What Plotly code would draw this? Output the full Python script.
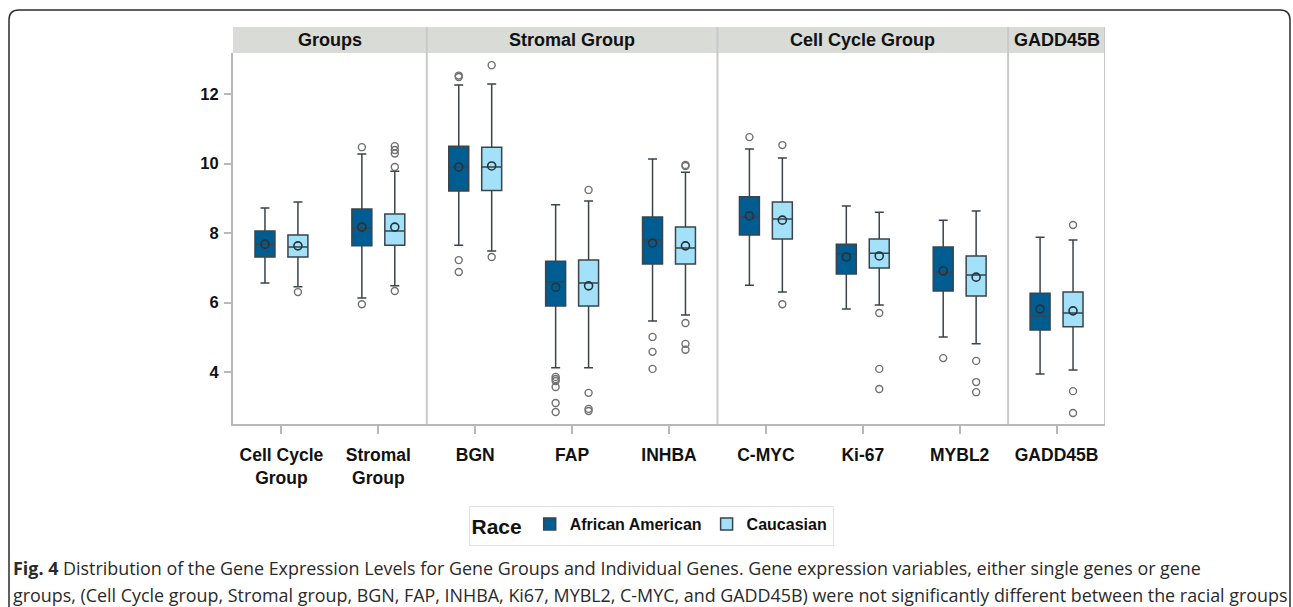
import plotly.graph_objects as go

# ---------------- data ----------------
categories = ["Cell Cycle<br>Group", "Stromal<br>Group", "BGN", "FAP", "INHBA",
              "C-MYC", "Ki-67", "MYBL2", "GADD45B"]
panels = ["Groups", "Stromal Group", "Cell Cycle Group", "GADD45B"]
panel_sizes = [2, 3, 3, 1]
races = ["African American", "Caucasian"]

aa_lower = [6.56, 6.13, 7.65, 4.12, 5.47, 6.50, 5.81, 5.01, 3.94]
aa_q1 = [7.31, 7.63, 9.21, 5.90, 7.11, 7.94, 6.82, 6.33, 5.21]
aa_median = [7.68, 8.14, 9.90, 6.60, 7.80, 8.46, 7.40, 6.88, 5.61]
aa_q3 = [8.06, 8.69, 10.50, 7.19, 8.46, 9.04, 7.68, 7.60, 6.27]
aa_upper = [8.72, 10.27, 12.26, 8.81, 10.13, 10.42, 8.78, 8.37, 7.88]
aa_mean = [7.68, 8.17, 9.90, 6.44, 7.71, 8.49, 7.31, 6.91, 5.81]
aa_outliers = [[], [10.47, 5.95], [12.49, 12.53, 7.22, 6.88],
               [3.86, 3.80, 3.74, 3.57, 3.11, 2.85], [5.01, 4.58, 4.09],
               [10.76], [], [4.40], []]

ca_lower = [6.45, 6.48, 7.48, 4.12, 5.64, 6.30, 5.93, 4.81, 4.06]
ca_q1 = [7.31, 7.65, 9.22, 5.90, 7.11, 7.83, 6.99, 6.19, 5.30]
ca_median = [7.60, 8.06, 9.90, 6.56, 7.57, 8.40, 7.42, 6.79, 5.70]
ca_q3 = [7.94, 8.55, 10.47, 7.22, 8.17, 8.89, 7.83, 7.34, 6.30]
ca_upper = [8.89, 9.78, 12.29, 8.92, 9.75, 10.16, 8.60, 8.63, 7.80]
ca_mean = [7.63, 8.17, 9.93, 6.48, 7.63, 8.37, 7.34, 6.73, 5.76]
ca_outliers = [[6.30], [10.50, 10.39, 10.29, 9.90, 6.33], [12.83, 7.31],
               [9.24, 3.40, 2.94, 2.88], [9.96, 9.93, 5.41, 4.81, 4.64],
               [10.53, 5.95], [5.70, 4.09, 3.51], [4.32, 3.71, 3.42],
               [8.23, 3.45, 2.82]]

y_ticks = [4, 6, 8, 10, 12]

caption_1 = ("<b>Fig. 4</b> Distribution of the Gene Expression Levels for Gene Groups and "
             "Individual Genes. Gene expression variables, either single genes or gene")
caption_2 = ("groups, (Cell Cycle group, Stromal group, BGN, FAP, INHBA, Ki67, MYBL2, C-MYC, "
             "and GADD45B) were not significantly different between the racial groups")

# ---------------- styling ----------------
W, H = 1293, 607
ML, MR, MT, MB = 233, 188, 53, 183
PW, PH = W - ML - MR, H - MT - MB
fills = ["#005d92", "#a3e1f9"]
offsets = [-0.17, 0.17]
box_w = 0.206
FONT = "Liberation Sans, Arial, sans-serif"


def px_x(px):
    return (px - ML) / PW


def px_y(py):
    return (H - MB - py) / PH


stats = [
    (aa_lower, aa_q1, aa_median, aa_q3, aa_upper, aa_mean, aa_outliers),
    (ca_lower, ca_q1, ca_median, ca_q3, ca_upper, ca_mean, ca_outliers),
]

fig = go.Figure()
idx = list(range(len(categories)))
for r, (race, st) in enumerate(zip(races, stats)):
    lo, q1, med, q3, up, mn, outs = st
    pos = [i + offsets[r] for i in idx]
    fig.add_trace(go.Box(
        name=race, x=pos, q1=q1, median=med, q3=q3,
        lowerfence=lo, upperfence=up, width=box_w,
        fillcolor=fills[r], line=dict(color="#3a444c", width=1.5),
        whiskerwidth=0.45, boxpoints=False, hoverinfo="skip",
        showlegend=True,
    ))
    fig.add_trace(go.Scatter(
        x=pos, y=mn, mode="markers", showlegend=False, hoverinfo="skip",
        marker=dict(symbol="circle-open", size=8, color="#26323b",
                    line=dict(width=1.6, color="#26323b")),
    ))
    ox, oy = [], []
    for i, vals in enumerate(outs):
        for v in vals:
            ox.append(pos[i])
            oy.append(v)
    fig.add_trace(go.Scatter(
        x=ox, y=oy, mode="markers", showlegend=False, hoverinfo="skip",
        marker=dict(symbol="circle-open", size=7, color="#707070",
                    line=dict(width=1.4, color="#707070")),
    ))

shapes = []
annotations = []
# header strips and panel dividers
start = -0.5
header_top = px_y(27)
for name, n in zip(panels, panel_sizes):
    end = start + n
    shapes.append(dict(type="rect", xref="x", yref="paper", x0=start, x1=end,
                       y0=1, y1=header_top, fillcolor="#d9dbd6",
                       line=dict(width=0), layer="below"))
    annotations.append(dict(text="<b>" + name + "</b>", xref="x", yref="paper",
                            x=(start + end) / 2, y=(1 + header_top) / 2,
                            showarrow=False, yanchor="middle",
                            font=dict(family=FONT, size=18, color="#111")))
    shapes.append(dict(type="line", xref="x", yref="paper", x0=end, x1=end,
                       y0=0, y1=header_top, line=dict(color="#c9c9c9", width=2)))
    start = end

# outer rounded frame
lx, rx, ty, by = px_x(9), px_x(1290), px_y(10), px_y(607)
rxp, ryp = 10 / PW, 10 / PH
path = (f"M {lx},{by} L {lx},{ty - ryp} Q {lx},{ty} {lx + rxp},{ty} "
        f"L {rx - rxp},{ty} Q {rx},{ty} {rx},{ty - ryp} L {rx},{by}")
shapes.append(dict(type="path", xref="paper", yref="paper", path=path,
                   line=dict(color="#2b2b2b", width=1.5)))

# caption
cap_font = dict(family="Open Sans", size=17.9, color="#2a2a2a")
annotations.append(dict(text=caption_1, xref="paper", yref="paper",
                        x=px_x(11), y=px_y(568), xanchor="left", yanchor="middle",
                        showarrow=False, font=cap_font))
annotations.append(dict(text=caption_2, xref="paper", yref="paper",
                        x=px_x(11), y=px_y(595), xanchor="left", yanchor="middle",
                        showarrow=False, font=cap_font))

fig.update_layout(
    width=W, height=H,
    margin=dict(l=ML, r=MR, t=MT, b=MB, pad=0),
    paper_bgcolor="white", plot_bgcolor="white",
    boxmode="overlay",
    shapes=shapes, annotations=annotations,
    legend=dict(orientation="h", x=px_x(651), xanchor="center",
                y=px_y(506), yanchor="top",
                title=dict(text="<b>Race</b>", font=dict(family=FONT, size=21, color="#111"),
                           side="left"),
                font=dict(family=FONT, size=16, color="#111", weight="bold"),
                bordercolor="#e2e2e2", borderwidth=1, bgcolor="white"),
    xaxis=dict(range=[-0.5, 8.5], tickmode="array", tickvals=idx, ticktext=categories,
               showline=True, linecolor="#b8b8b8", linewidth=2, showgrid=False,
               zeroline=False, ticks="outside", ticklen=8, tickwidth=2,
               tickcolor="#b8b8b8", ticklabelstandoff=6,
               tickfont=dict(family=FONT, size=17.5, color="#111", weight="bold")),
    yaxis=dict(range=[2.504, 13.18], tickmode="array", tickvals=y_ticks,
               showline=True, linecolor="#b8b8b8", linewidth=2, showgrid=False,
               zeroline=False, ticks="outside", ticklen=7, tickwidth=2,
               tickcolor="#b8b8b8", ticklabelstandoff=2,
               tickfont=dict(family=FONT, size=16.5, color="#111", weight="bold")),
)

fig.write_html("out.html", config={"displayModeBar": False},
               post_script="document.body.style.margin='0';")
